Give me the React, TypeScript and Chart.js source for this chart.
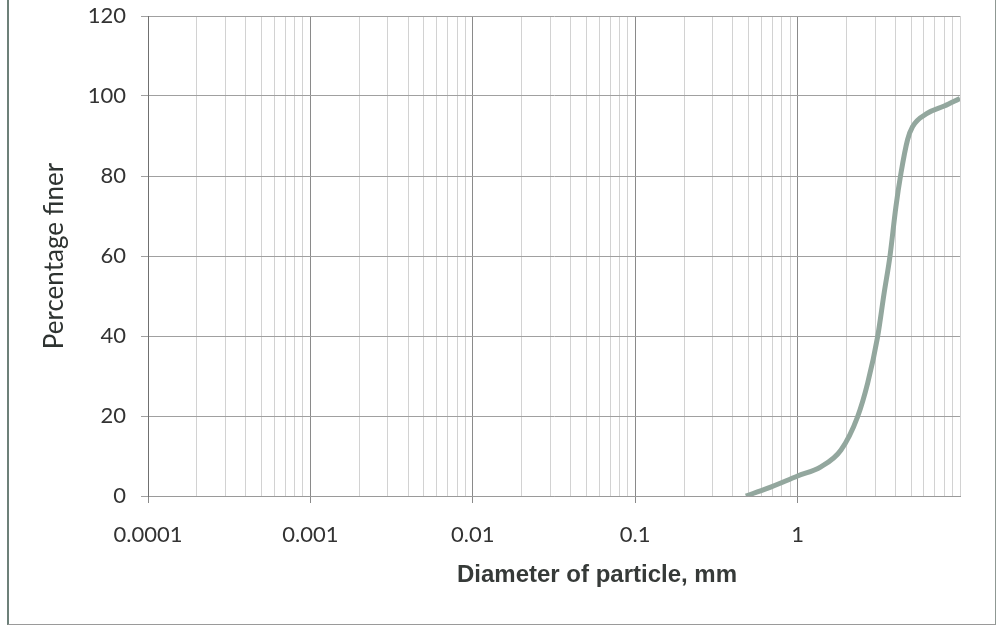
import React, { useEffect, useRef } from "react";
import { Chart, registerables } from "chart.js";

Chart.register(...registerables);

// Grain-size distribution curve
const diameters = [0.48, 0.65, 1.0, 1.39, 1.85, 2.34, 2.7, 3.11, 3.41, 3.7, 4.03, 4.33, 4.75, 5.1, 6.31, 8.0, 10];
const percentFiner = [0, 1.9, 5, 7.3, 11.5, 19.8, 28.2, 39.8, 50.7, 59.8, 72.3, 80.7, 89, 92.3, 95.7, 97.5, 99.4];

const xDecades = [0.0001, 0.001, 0.01, 0.1, 1, 10];
const xDecadeLabels = ["0.0001", "0.001", "0.01", "0.1", "1", ""];
const xMinorMultipliers = [2, 3, 4, 5, 6, 7, 8, 9];
const yTicks = [0, 20, 40, 60, 80, 100, 120];

const xTitle = "Diameter of particle, mm";
const yTitle = "Percentage finer";

function buildXTicks() {
  const out: { value: number; major: boolean }[] = [];
  xDecades.forEach((d, i) => {
    out.push({ value: d, major: true });
    if (i < xDecades.length - 1) {
      xMinorMultipliers.forEach((m) => out.push({ value: +(d * m).toPrecision(6), major: false }));
    }
  });
  return out;
}

const xTitlePlugin = {
  id: "xTitlePlugin",
  afterDraw(chart: any) {
    const ctx = chart.ctx;
    ctx.save();
    ctx.font = "bold 24px 'Liberation Sans', Arial, sans-serif";
    ctx.fillStyle = "#363a38";
    ctx.textAlign = "center";
    ctx.textBaseline = "alphabetic";
    ctx.fillText(xTitle, 597, 582);
    ctx.restore();
  },
};

export default function App() {
  const ref = useRef<HTMLCanvasElement | null>(null);

  useEffect(() => {
    if (!ref.current) return;
    const xTickList = buildXTicks();
    const chart = new Chart(ref.current, {
      type: "scatter",
      data: {
        datasets: [
          {
            label: "Percentage finer",
            data: diameters.map((d, i) => ({ x: d, y: percentFiner[i] })),
            showLine: true,
            borderColor: "#93a79e",
            backgroundColor: "#93a79e",
            borderWidth: 5,
            pointRadius: 0,
            cubicInterpolationMode: "monotone",
          },
        ],
      },
      options: {
        animation: false,
        responsive: false,
        devicePixelRatio: 1,
        layout: { padding: { left: 0, top: 16, right: 41, bottom: 0 } },
        plugins: { legend: { display: false }, tooltip: { enabled: false }, title: { display: false } },
        scales: {
          x: {
            type: "logarithmic",
            min: 0.0001,
            max: 10,
            afterBuildTicks: (scale: any) => {
              scale.ticks = xTickList.map((t) => ({ ...t }));
            },
            afterFit: (scale: any) => {
              scale.height = 133;
              scale.paddingLeft = 0;
              scale.paddingRight = 0;
            },
            ticks: {
              autoSkip: false,
              maxRotation: 0,
              padding: 19,
              color: "#333333",
              font: { family: "Lato", size: 22 },
              callback: (value: any) => {
                const idx = xDecades.findIndex((d) => Math.abs(d - Number(value)) / d < 1e-6);
                return idx >= 0 ? xDecadeLabels[idx] : "";
              },
            },
            grid: {
              lineWidth: 1,
              tickLength: 7,
              color: (c: any) => {
                const t = c.tick;
                if (!t) return "#d2d2d2";
                return t.major && t.value < 10 ? "#8a8a8a" : "#d2d2d2";
              },
              tickColor: (c: any) => {
                const t = c.tick;
                return t && t.major && t.value < 10 ? "#8a8a8a" : "rgba(0,0,0,0)";
              },
            },
            border: { display: true, color: "#9a9a9a", width: 1 },
            title: { display: false },
          },
          y: {
            min: 0,
            max: 120,
            afterBuildTicks: (scale: any) => {
              scale.ticks = yTicks.map((v) => ({ value: v }));
            },
            afterFit: (scale: any) => {
              scale.width = 148;
              scale.paddingTop = 0;
              scale.paddingBottom = 0;
            },
            ticks: {
              padding: 15,
              color: "#333333",
              font: { family: "Lato", size: 22 },
            },
            grid: { color: "#a0a0a0", lineWidth: 1, tickLength: 7, tickColor: "#a0a0a0" },
            border: { display: true, color: "#707070", width: 1 },
            title: {
              display: true,
              text: yTitle,
              color: "#2e3331",
              font: { family: "Lato", size: 26, weight: "normal" },
              padding: { top: 39, bottom: 0 },
            },
          },
        },
      },
      plugins: [xTitlePlugin],
    } as any);
    return () => chart.destroy();
  }, []);

  return (
    <div style={{ position: "fixed", left: 0, top: 0, width: 1001, height: 629, background: "#ffffff" }}>
      <canvas ref={ref} width={1001} height={629} style={{ width: 1001, height: 629, display: "block" }} />
      <div
        style={{
          position: "absolute",
          left: 7,
          top: -5,
          width: 989,
          height: 630,
          boxSizing: "border-box",
          borderTop: "none",
          borderLeft: "2px solid #6d8079",
          borderRight: "1px solid #8f9893",
          borderBottom: "1px solid #9a9a9a",
          pointerEvents: "none",
        }}
      />
    </div>
  );
}
